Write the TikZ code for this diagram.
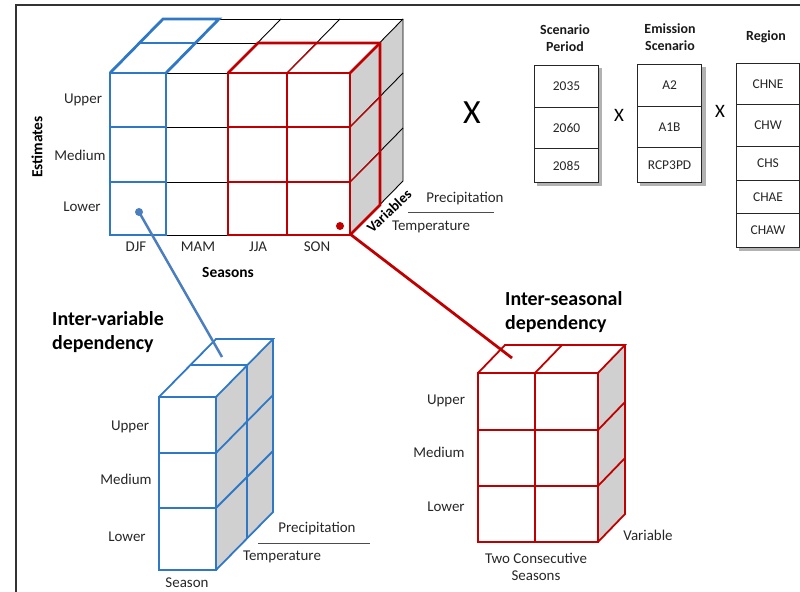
\documentclass[tikz,border=0pt]{standalone}
\usepackage{fontspec}
\setmainfont{Carlito}
\usetikzlibrary{calc}
\definecolor{cblue}{HTML}{2E78C6}
\definecolor{cred}{HTML}{C00000}
\definecolor{cgray}{HTML}{D0D0D0}
\definecolor{lblue}{HTML}{4A7EBE}
\definecolor{txt}{HTML}{262626}
\begin{document}
\begin{tikzpicture}[x=1bp,y=-1bp,
  lab/.style={font=\fontsize{15}{17}\selectfont, text=txt, inner sep=0pt},
  blab/.style={font=\fontsize{15.5}{17}\selectfont\bfseries, text=black, inner sep=0pt},
  head/.style={font=\fontsize{20}{23.5}\selectfont\bfseries, text=black, inner sep=0pt, align=left, anchor=west},
  ttl/.style={font=\fontsize{14}{17}\selectfont\bfseries, text=black!90, inner sep=0pt, align=center},
  cell/.style={draw=black!85, line width=1.1pt, fill=white, minimum width=64bp, font=\fontsize{13.5}{15}\selectfont, text=txt, inner sep=0pt, anchor=north west},
  shadowbox/.style={fill=black!30},
  gthin/.style={draw=black, line width=0.9pt},
  bthick/.style={draw=cblue, line width=2.8pt, line join=miter},
  bmid/.style={draw=cblue, line width=1.8pt},
  rthick/.style={draw=cred, line width=2.8pt, line join=miter},
  rthin/.style={draw=cred, line width=1.3pt},
  rmid/.style={draw=cred, line width=1.8pt},
  bigx/.style={font=\fontsize{34}{36}\selectfont, inner sep=0pt},
  smallx/.style={font=\fontsize{19}{21}\selectfont, inner sep=0pt}
]
\useasboundingbox (0,0) rectangle (800,592);
% frame
\draw[black!80, line width=1.2pt] (800,5) -- (16,5) -- (16,592);

% ---------------- big cube ----------------
\fill[cgray] (350,73) -- (403,19) -- (403,181) -- (350,235) -- cycle;
\draw[gthin] (163,19) -- (403,19);
\draw[gthin] (140,43) -- (380,43);
\foreach \xx in {110,166,228,287,350} {\draw[gthin] (\xx,73) -- (\xx+53,19);}
\draw[gthin] (110,73) rectangle (350,235);
\draw[gthin] (110,127) -- (350,127);
\draw[gthin] (110,182) -- (350,182);
\foreach \xx in {166,228,287} {\draw[gthin] (\xx,73) -- (\xx,235);}
\draw[gthin] (350,127) -- (403,73);
\draw[gthin] (350,182) -- (403,128);
\draw[gthin] (380,43) -- (380,205);
\draw[gthin] (403,19) -- (403,181) -- (350,235);
% blue selection
\draw[bmid] (110,127) -- (166,127);
\draw[bmid] (110,182) -- (166,182);
\draw[bthick] (140,43) -- (196,43);
\draw[bthick] (110,73) rectangle (166,235);
\draw[bthick] (110,73) -- (163,19) -- (219,19) -- (166,73);
% red selection
\draw[rthin] (287,73) -- (287,235);
\draw[rthin] (228,127) -- (350,127);
\draw[rthin] (228,182) -- (350,182);
\draw[rthin] (287,73) -- (317,43);
\draw[rthin] (350,127) -- (380,97);
\draw[rthin] (350,182) -- (380,152);
\draw[rthick] (228,73) rectangle (350,235);
\draw[rthick] (228,73) -- (258,43) -- (380,43) -- (380,205) -- (350,235);
\draw[rthick] (350,73) -- (380,43);

% labels big cube
\node[lab] (bu) at (83,100) {Upper};
\node[lab] (bm) at (80,155) {Medium};
\node[lab] (bl) at (82,207) {Lower};
\node[blab, rotate=90] (est) at (37,147) {Estimates};
\node[lab] (djf) at (136,247) {DJF};
\node[lab] (mam) at (198,247) {MAM};
\node[lab] (jja) at (258,247) {JJA};
\node[lab] (son) at (317,247) {SON};
\node[blab] (seas) at (228,272) {Seasons};
\node[blab, rotate=43, font=\fontsize{14.5}{16}\selectfont\bfseries] (vars) at (389,211) {Variables};
\node[lab] (prec1) at (465,199) {Precipitation};
\coordinate (pl1a) at (408,212);
\coordinate (pl1b) at (494,212);
\draw[black!70, line width=1pt] (pl1a) -- (pl1b);
\node[lab] (temp1) at (431,227) {Temperature};

% ---------------- right columns ----------------
\node[bigx] (x1) at (472,113) {X};
\node[smallx] (x2) at (619,115) {X};
\node[smallx] (x3) at (720,111) {X};

\node[ttl] (tp) at (565,38) {Scenario\\Period};
\node[ttl] (te) at (670,37) {Emission\\Scenario};
\node[ttl] (tr) at (766,37) {Region};

\fill[shadowbox] (537,68) rectangle (602,186);
\node[cell, minimum height=42bp] (p1) at (534,65) {2035};
\node[cell, minimum height=41bp] (p2) at (534,107) {2060};
\node[cell, minimum height=34bp] (p3) at (534,148) {2085};

\fill[shadowbox] (640,67) rectangle (706,186);
\node[cell, minimum height=42bp] (e1) at (637,64) {A2};
\node[cell, minimum height=41bp] (e2) at (637,106) {A1B};
\node[cell, minimum height=35bp] (e3) at (637,147) {RCP3PD};

\fill[shadowbox] (739,66) rectangle (803,251);
\node[cell, minimum width=63bp, minimum height=41bp] (r1) at (736,63) {CHNE};
\node[cell, minimum width=63bp, minimum height=42bp] (r2) at (736,104) {CHW};
\node[cell, minimum width=63bp, minimum height=34bp] (r3) at (736,146) {CHS};
\node[cell, minimum width=63bp, minimum height=33bp] (r4) at (736,180) {CHAE};
\node[cell, minimum width=63bp, minimum height=34bp] (r5) at (736,213) {CHAW};

% ---------------- inter-variable cube ----------------
\node[head] (hv) at (52,332) {Inter-variable\\dependency};
\fill[cgray] (216,397) -- (273,339) -- (273,512) -- (216,570) -- cycle;
\draw[bmid] (159,397) rectangle (216,570);
\draw[bmid] (159,453) -- (216,453);
\draw[bmid] (159,508) -- (216,508);
\draw[bmid] (159,397) -- (216,339) -- (273,339) -- (216,397);
\draw[bmid] (190,365) -- (247,365);
\draw[bmid] (273,339) -- (273,512) -- (216,570);
\draw[bmid] (247,365) -- (247,538);
\draw[bmid] (216,453) -- (273,395);
\draw[bmid] (216,508) -- (273,451);
\node[lab] (vu) at (130,427) {Upper};
\node[lab] (vm) at (126,479) {Medium};
\node[lab] (vl) at (127,537) {Lower};
\node[lab] (vs) at (187,583) {Season};
\node[lab] (prec2) at (317,529) {Precipitation};
\coordinate (pl2a) at (258,543);
\coordinate (pl2b) at (370,543);
\draw[black!70, line width=1pt] (pl2a) -- (pl2b);
\node[lab] (temp2) at (282,557) {Temperature};

% ---------------- inter-seasonal cube ----------------
\node[head] (hs) at (505,312) {Inter-seasonal\\dependency};
\fill[cgray] (598,373) -- (625,345) -- (625,514) -- (598,542) -- cycle;
\draw[rmid] (478,373) rectangle (598,542);
\draw[rmid] (535,373) -- (535,542);
\draw[rmid] (478,430) -- (598,430);
\draw[rmid] (478,486) -- (598,486);
\draw[rmid] (478,373) -- (505,345) -- (625,345) -- (598,373);
\draw[rmid] (535,373) -- (562,345);
\draw[rmid] (625,345) -- (625,514) -- (598,542);
\draw[rmid] (598,430) -- (625,402);
\draw[rmid] (598,486) -- (625,458);
\node[lab] (su) at (446,401) {Upper};
\node[lab] (sm) at (439,452) {Medium};
\node[lab] (sl) at (446,507) {Lower};
\node[lab, align=center] (stc) at (536,567) {Two Consecutive\\Seasons};
\node[lab] (sv) at (648,535) {Variable};

% ---------------- connectors ----------------
\coordinate (bdot) at (139,212);
\coordinate (bend) at (222,357);
\draw[lblue, line width=2.5pt] (bdot) -- (bend);
\fill[lblue] (bdot) circle (4);
\coordinate (rdot) at (340,226);
\coordinate (rstart) at (350,234);
\coordinate (rend) at (512,358);
\draw[cred, line width=2.8pt] (rstart) -- (rend);
\fill[cred] (rdot) circle (4);
\end{tikzpicture}
\end{document}
